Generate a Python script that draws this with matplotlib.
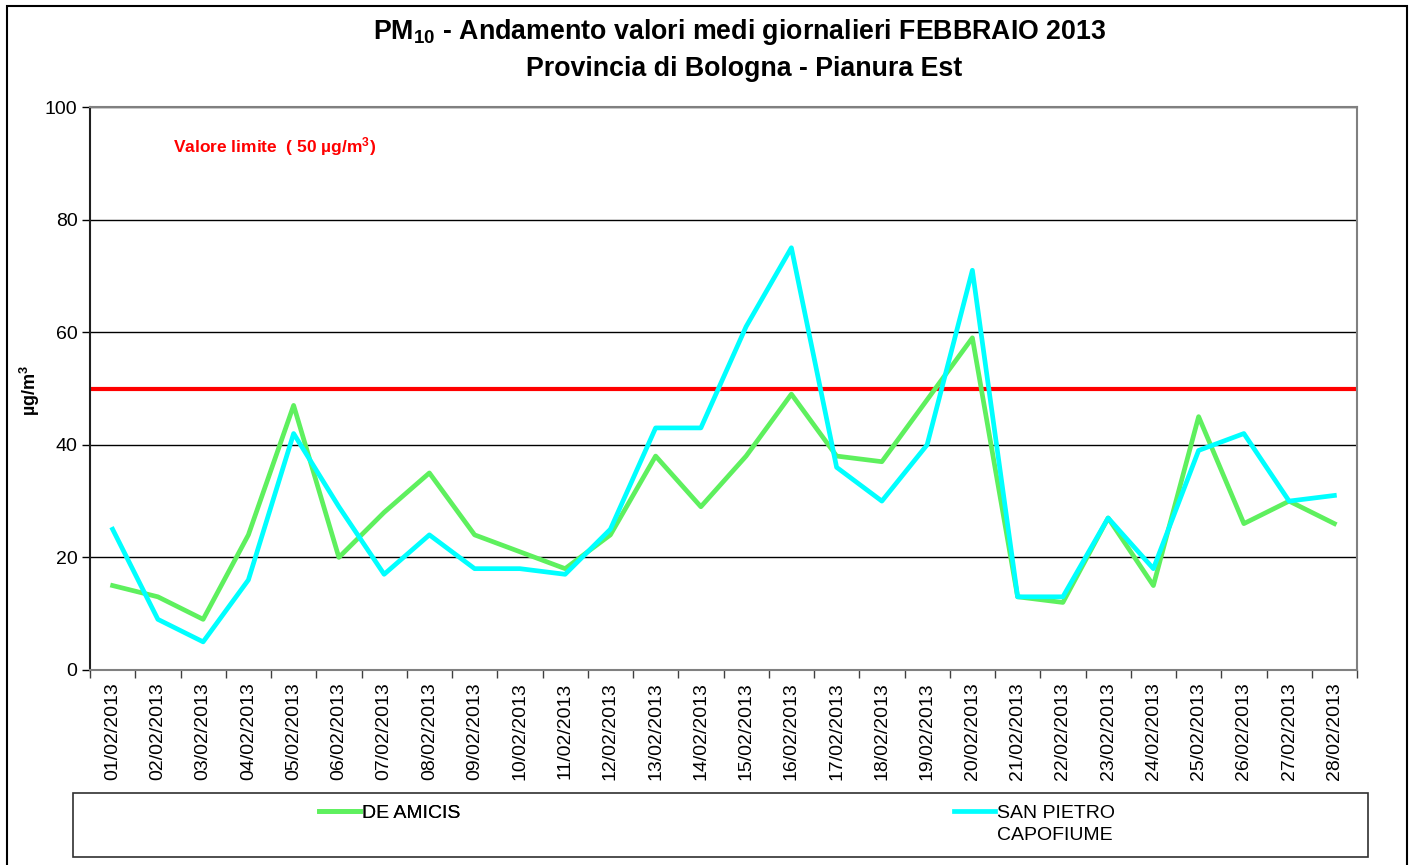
import matplotlib
matplotlib.use("Agg")
import matplotlib.pyplot as plt
from matplotlib.patches import Rectangle
import numpy as np

plt.rcParams['font.family'] = ['Liberation Sans', 'DejaVu Sans']
plt.rcParams['mathtext.fontset'] = 'custom'
plt.rcParams['mathtext.rm'] = 'Liberation Sans'
plt.rcParams['mathtext.bf'] = 'Liberation Sans:bold'
plt.rcParams['mathtext.it'] = 'Liberation Sans:italic'
plt.rcParams['mathtext.default'] = 'bf'

dates = ["01/02/2013", "02/02/2013", "03/02/2013", "04/02/2013", "05/02/2013",
         "06/02/2013", "07/02/2013", "08/02/2013", "09/02/2013", "10/02/2013",
         "11/02/2013", "12/02/2013", "13/02/2013", "14/02/2013", "15/02/2013",
         "16/02/2013", "17/02/2013", "18/02/2013", "19/02/2013", "20/02/2013",
         "21/02/2013", "22/02/2013", "23/02/2013", "24/02/2013", "25/02/2013",
         "26/02/2013", "27/02/2013", "28/02/2013"]
de_amicis = [15, 13, 9, 24, 47, 20, 28, 35, 24, 21, 18, 24, 38, 29, 38, 49,
             38, 37, 48, 59, 13, 12, 27, 15, 45, 26, 30, 26]
san_pietro = [25, 9, 5, 16, 42, 29, 17, 24, 18, 18, 17, 25, 43, 43, 61, 75,
              36, 30, 40, 71, 13, 13, 27, 18, 39, 42, 30, 31]
limit_value = 50
y_ticks = [0, 20, 40, 60, 80, 100]

W, H = 1415, 865
fig = plt.figure(figsize=(W / 100, H / 100), dpi=100)
fig.patch.set_facecolor('white')

left, right, top, bottom = 90, 1357, 107, 670
ax = fig.add_axes([left / W, 1 - bottom / H, (right - left) / W, (bottom - top) / H])

x = np.arange(len(dates))
ax.set_xlim(-0.5, len(dates) - 0.5)
ax.set_ylim(0, 100)

for yv in y_ticks[1:]:
    ax.axhline(yv, color='black', lw=1.0, zorder=1)

ax.axhline(limit_value, color='#ff0000', lw=3.0, zorder=2)
l1, = ax.plot(x, de_amicis, color='#5ef05e', lw=3.4, zorder=3)
l2, = ax.plot(x, san_pietro, color='#00ffff', lw=3.4, zorder=4)

ax.text((173 - left) / (right - left), 93, "Valore limite  ( 50 µg/m$^{3}$)",
        color='#ff0000', fontsize=12.5, fontweight='bold', ha='left', va='center',
        transform=ax.get_yaxis_transform())

ax.set_yticks(y_ticks)
ax.set_yticklabels([str(v) for v in y_ticks], fontsize=14)
ax.set_xticks(x)
ax.set_xticklabels(dates, rotation=90, fontsize=14)
ax.set_xticks(np.arange(-0.5, len(dates)), minor=True)
ax.tick_params(axis='x', which='major', length=0, pad=9)
ax.tick_params(axis='x', which='minor', length=6, direction='out', color='#404040', width=1)
ax.tick_params(axis='y', length=6, direction='out', width=1, pad=3)

for s in ['top', 'right', 'bottom']:
    ax.spines[s].set_color('#808080')
    ax.spines[s].set_linewidth(1.5)
ax.spines['left'].set_color('#202020')
ax.spines['left'].set_linewidth(1.5)

fig.text(30 / W, 1 - 390 / H, "µg/m$^{3}$", rotation=90, ha='center', va='center',
         fontsize=13, fontweight='bold')

fig.text(740 / W, 1 - 32 / H, "PM$_{10}$ - Andamento valori medi giornalieri FEBBRAIO 2013",
         ha='center', va='center', fontsize=19.3, fontweight='bold')
fig.text(744 / W, 1 - 69 / H, "Provincia di Bologna - Pianura Est",
         ha='center', va='center', fontsize=19.3, fontweight='bold')

# outer border
fig.add_artist(Rectangle((7 / W, -0.05), (1407 - 7) / W, (1 - 6 / H) + 0.05,
                         transform=fig.transFigure, fill=False, edgecolor='black', lw=1.5,
                         clip_on=False))
# legend box
fig.add_artist(Rectangle((73 / W, 1 - 857 / H), (1368 - 73) / W, (857 - 793) / H,
                         transform=fig.transFigure, fill=False, edgecolor='#303030', lw=1.2))

leg_kw = dict(loc='center left', frameon=False, fontsize=14, handlelength=2.1,
              handletextpad=0.12, borderpad=0, borderaxespad=0)
leg1 = fig.legend([l1], ["DE AMICIS"], bbox_to_anchor=(319 / W, 1 - 813 / H), **leg_kw)
fig.add_artist(leg1)
fig.legend([l2], ["SAN PIETRO"], bbox_to_anchor=(954 / W, 1 - 813 / H), **leg_kw)
fig.text(997 / W, 1 - 836 / H, "CAPOFIUME", ha='left', va='center', fontsize=14)

fig.savefig("out.png", dpi=100)
